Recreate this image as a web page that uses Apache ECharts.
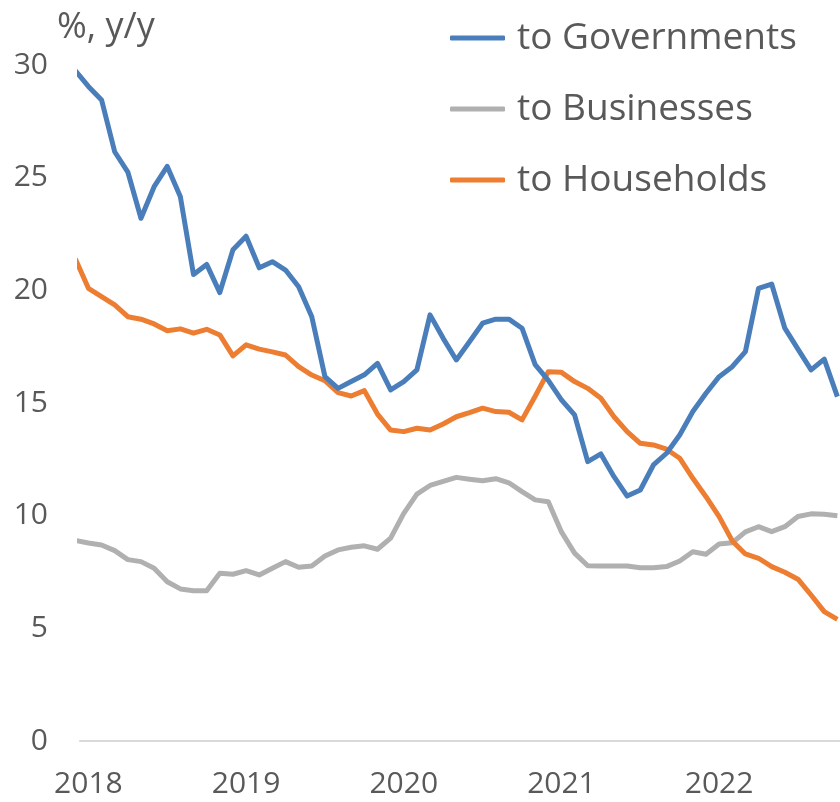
<!DOCTYPE html>
<html lang="en">
<head>
    <meta charset="UTF-8">
    <title>loans_growth</title>
    <script src="https://cdn.jsdelivr.net/npm/echarts@6/dist/echarts.min.js"></script>
    <style>
        html,body{margin:0;padding:0;background:#fff}
        #chart{width:840px;height:802px}
    </style>
</head>
<body>
    <div id="chart"></div>
    <script>
        // monthly, Dec 2017 .. Oct 2022 (first point sits just left of the plot and gets clipped)
        var firstMonth = -1;
        var years = ['2018', '2019', '2020', '2021', '2022'];
        var yearPos = [0, 12, 24, 36, 48];

        var toGovernments = [29.75, 29.05, 28.45, 26.15, 25.25, 23.2, 24.6, 25.5, 24.15, 20.7, 21.15, 19.9,
            21.8, 22.4, 21.0, 21.27, 20.9, 20.16, 18.83, 16.17, 15.65, 15.95, 16.25, 16.76,
            15.58, 15.95, 16.47, 18.91, 17.87, 16.91, 17.72, 18.54, 18.72, 18.72, 18.32, 16.7,
            16.0, 15.14, 14.47, 12.4, 12.74, 11.73, 10.87, 11.14, 12.25, 12.77, 13.58, 14.62,
            15.43, 16.17, 16.61, 17.28, 20.09, 20.28, 18.32, 17.39, 16.47, 16.95, 15.28];
        var toBusinesses = [8.9, 8.79, 8.7, 8.45, 8.05, 7.96, 7.67, 7.07, 6.75, 6.67, 6.67, 7.44,
            7.4, 7.56, 7.37, 7.67, 7.96, 7.71, 7.77, 8.21, 8.48, 8.6, 8.66, 8.51,
            9.0, 10.1, 10.96, 11.34, 11.52, 11.7, 11.62, 11.55, 11.64, 11.46, 11.07, 10.7,
            10.62, 9.28, 8.34, 7.78, 7.77, 7.77, 7.77, 7.69, 7.69, 7.74, 7.99, 8.4,
            8.29, 8.74, 8.8, 9.28, 9.51, 9.29, 9.51, 9.96, 10.08, 10.06, 10.0];
        var toHouseholds = [21.4, 20.09, 19.72, 19.35, 18.83, 18.72, 18.51, 18.21, 18.29, 18.1, 18.27, 18.02,
            17.09, 17.58, 17.39, 17.27, 17.13, 16.61, 16.24, 15.99, 15.46, 15.31, 15.55, 14.51,
            13.8, 13.73, 13.88, 13.8, 14.07, 14.39, 14.57, 14.77, 14.62, 14.59, 14.25, 15.3,
            16.39, 16.36, 15.95, 15.65, 15.21, 14.39, 13.73, 13.21, 13.14, 12.95, 12.55, 11.66,
            10.84, 9.96, 8.88, 8.3, 8.11, 7.74, 7.49, 7.18, 6.48, 5.74, 5.4];

        function pairs(arr) {
            var out = [];
            for (var i = 0; i < arr.length; i++) {
                out.push([firstMonth + i, arr[i]]);
            }
            return out;
        }

        var font = '"Open Sans", "Noto Sans", sans-serif';
        var textGrey = '#595959';

        var mychart = echarts.init(document.getElementById('chart'));
        var option = {
            animation: false,
            title: {
                text: '%, y/y',
                left: 52,
                top: 5,
                textStyle: {fontFamily: font, fontSize: 36, fontWeight: 'normal', color: textGrey}
            },
            legend: {
                orient: 'vertical',
                left: 445,
                top: 8,
                icon: 'roundRect',
                itemWidth: 55,
                itemHeight: 5,
                itemGap: 21,
                textStyle: {fontFamily: font, fontSize: 37, color: textGrey, lineHeight: 50, padding: [0, 0, 0, 7]},
                data: ['to Governments', 'to Businesses', 'to Households']
            },
            grid: {left: 80, right: 0, top: 65, bottom: 61},
            xAxis: {
                type: 'value',
                min: -0.64,
                max: 57.2,
                axisLine: {show: true, onZero: false, lineStyle: {color: '#d9d9d9', width: 2}},
                axisTick: {show: false},
                splitLine: {show: false},
                axisLabel: {
                    customValues: yearPos,
                    margin: 28,
                    fontFamily: font,
                    fontSize: 30,
                    color: textGrey,
                    formatter: function (v) {
                        return years[yearPos.indexOf(Math.round(v))] || '';
                    }
                }
            },
            yAxis: {
                type: 'value',
                min: 0,
                max: 30,
                interval: 5,
                axisLine: {show: false},
                axisTick: {show: false},
                splitLine: {show: false},
                axisLabel: {margin: 32, fontFamily: font, fontSize: 30, color: textGrey}
            },
            series: [
                {
                    name: 'to Governments',
                    type: 'line',
                    data: pairs(toGovernments),
                    symbol: 'none',
                    color: '#4a7ebb',
                    lineStyle: {width: 5, join: 'round'},
                    z: 3
                },
                {
                    name: 'to Businesses',
                    type: 'line',
                    data: pairs(toBusinesses),
                    symbol: 'none',
                    color: '#b0b0b0',
                    lineStyle: {width: 5, join: 'round'},
                    z: 1
                },
                {
                    name: 'to Households',
                    type: 'line',
                    data: pairs(toHouseholds),
                    symbol: 'none',
                    color: '#ed7d31',
                    lineStyle: {width: 5, join: 'round'},
                    z: 2
                }
            ]
        };
        mychart.setOption(option);
    </script>
</body>
</html>
